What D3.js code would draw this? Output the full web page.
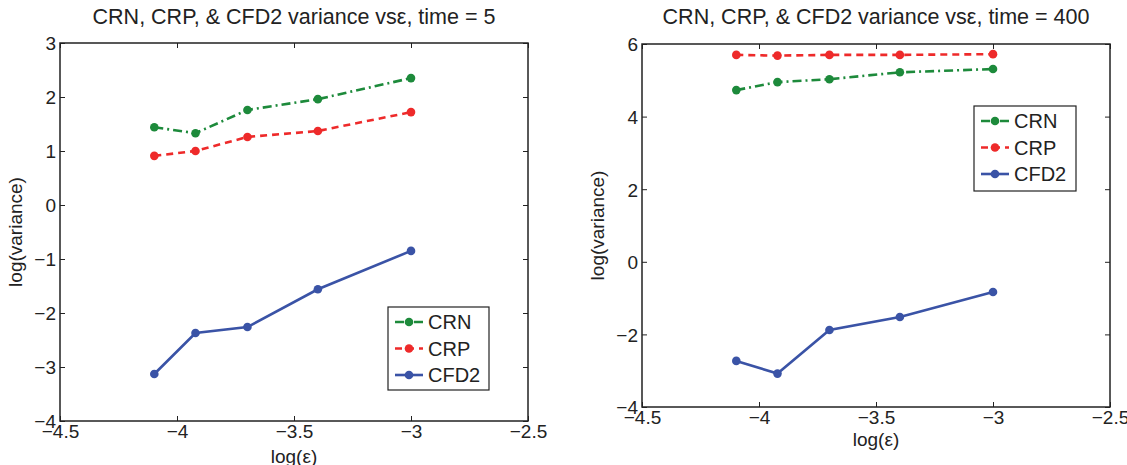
<!DOCTYPE html>
<html><head><meta charset="utf-8">
<script src="https://cdn.jsdelivr.net/npm/d3@7"></script>
<style>
body{margin:0;background:#fff;}
text{font-family:"Liberation Sans",Arial,sans-serif;fill:#222;}
</style></head>
<body><svg id="c" width="1127" height="465"></svg>
<script>
// ---- data ----
const logEps = [-4.097, -3.921, -3.699, -3.398, -3.0];
const seriesNames = ["CRN", "CRP", "CFD2"];
// time = 5
const crn5  = [1.44, 1.33, 1.76, 1.96, 2.35];
const crp5  = [0.91, 1.00, 1.26, 1.37, 1.72];
const cfd5  = [-3.13, -2.37, -2.26, -1.56, -0.85];
// time = 400
const crn400 = [4.73, 4.95, 5.03, 5.22, 5.31];
const crp400 = [5.70, 5.68, 5.70, 5.70, 5.72];
const cfd400 = [-2.73, -3.08, -1.88, -1.52, -0.83];
const xTicks = [-4.5, -4, -3.5, -3, -2.5];
const yTicks5 = [-4, -3, -2, -1, 0, 1, 2, 3];
const yTicks400 = [-4, -2, 0, 2, 4, 6];
const titles = ["CRN, CRP, & CFD2 variance vsε, time = 5", "CRN, CRP, & CFD2 variance vsε, time = 400"];

const styles = [
  {color:"#1d8a3b", dash:"9,4,2,4"},
  {color:"#ee2a2a", dash:"7,5"},
  {color:"#3a53a6", dash:null}
];

const svg = d3.select("#c");
const fmt = v => String(v).replace("-", "\u2212");
const FT = 19;

function panel(cfg){
  const {x0,x1,y0,y1,yDomain,yTicks,series,title,legend,ylabX,xlabY} = cfg;
  const g = svg.append("g");
  const x = d3.scaleLinear().domain([-4.5,-2.5]).range([x0,x1]);
  const y = d3.scaleLinear().domain(yDomain).range([y1,y0]);
  const tl = 5;
  const ax = g.append("g").attr("transform",`translate(0,${y1})`)
    .call(d3.axisBottom(x).tickValues(xTicks).tickSizeInner(-tl).tickSizeOuter(0).tickPadding(3).tickFormat(fmt));
  const axT = g.append("g").attr("transform",`translate(0,${y0})`)
    .call(d3.axisTop(x).tickValues(xTicks).tickSizeInner(-tl).tickSizeOuter(0).tickFormat(""));
  const ay = g.append("g").attr("transform",`translate(${x0},0)`)
    .call(d3.axisLeft(y).tickValues(yTicks).tickSizeInner(-tl).tickSizeOuter(0).tickPadding(4).tickFormat(fmt));
  const ayR = g.append("g").attr("transform",`translate(${x1},0)`)
    .call(d3.axisRight(y).tickValues(yTicks).tickSizeInner(-tl).tickSizeOuter(0).tickFormat(""));
  [ax,axT,ay,ayR].forEach(a=>{
    a.selectAll(".domain").remove();
    a.selectAll("line").attr("stroke","#222").attr("stroke-width",1);
    a.selectAll("text").attr("font-size",FT).attr("fill","#222").style("font-family","Liberation Sans, Arial, sans-serif");
  });
  ay.selectAll("text").attr("dy","0.36em");
  ax.selectAll("text").attr("dy","0.72em");
  g.append("rect").attr("x",x0).attr("y",y0).attr("width",x1-x0).attr("height",y1-y0)
    .attr("fill","none").attr("stroke","#222").attr("stroke-width",1.5);
  const line = d3.line().x(d=>x(d[0])).y(d=>y(d[1]));
  series.forEach((vals,i)=>{
    const pts = logEps.map((e,j)=>[e,vals[j]]);
    const s = styles[i];
    g.append("path").datum(pts).attr("d",line).attr("fill","none")
      .attr("stroke",s.color).attr("stroke-width",2.6).attr("stroke-dasharray",s.dash);
    g.selectAll(null).data(pts).enter().append("circle")
      .attr("cx",d=>x(d[0])).attr("cy",d=>y(d[1])).attr("r",4.3).attr("fill",s.color);
  });
  g.append("text").attr("x",(x0+x1)/2).attr("y",24).attr("text-anchor","middle")
    .attr("font-size",21.5).text(title);
  g.append("text").attr("x",(x0+x1)/2).attr("y",xlabY).attr("text-anchor","middle")
    .attr("font-size",FT).text("log(ε)");
  g.append("text").attr("transform",`translate(${ylabX},${(y0+y1)/2}) rotate(-90)`)
    .attr("text-anchor","middle").attr("font-size",FT).text("log(variance)");
  const L = legend;
  g.append("rect").attr("x",L.x).attr("y",L.y).attr("width",L.w).attr("height",L.h)
    .attr("fill","#fff").attr("stroke","#222").attr("stroke-width",1.2);
  seriesNames.forEach((n,i)=>{
    const ry = L.y + 15 + i*26.5;
    const s = styles[i];
    g.append("line").attr("x1",L.x+7).attr("x2",L.x+35).attr("y1",ry).attr("y2",ry)
      .attr("stroke",s.color).attr("stroke-width",2.6).attr("stroke-dasharray",s.dash);
    g.append("circle").attr("cx",L.x+21).attr("cy",ry).attr("r",4.3).attr("fill",s.color);
    g.append("text").attr("x",L.x+40).attr("y",ry).attr("dy","0.36em").attr("font-size",20).text(n);
  });
}

panel({x0:60,x1:528,y0:43,y1:421,yDomain:[-4,3],yTicks:yTicks5,series:[crn5,crp5,cfd5],
  title:titles[0],legend:{x:388,y:307,w:101,h:83},ylabX:22,xlabY:463});
panel({x0:642,x1:1110,y0:44,y1:407,yDomain:[-4,6],yTicks:yTicks400,series:[crn400,crp400,cfd400],
  title:titles[1],legend:{x:974,y:106,w:102,h:85},ylabX:604,xlabY:446});
</script></body></html>
